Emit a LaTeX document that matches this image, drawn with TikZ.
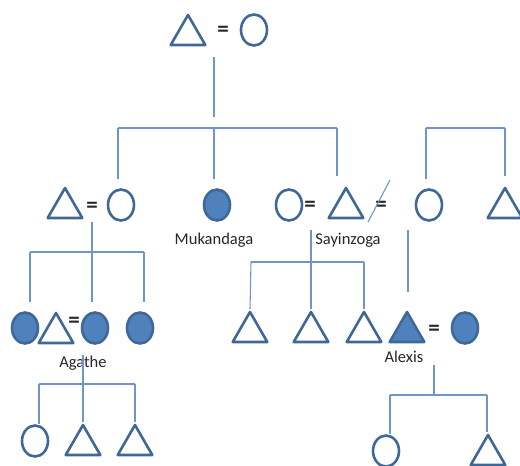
\documentclass[tikz,border=0pt]{standalone}
\usepackage{fontspec}
\setmainfont{Carlito}
\usetikzlibrary{shapes.geometric}

\definecolor{shp}{HTML}{3F6797}
\definecolor{shpfill}{HTML}{4F81BD}
\definecolor{tree}{HTML}{7095C8}

\begin{document}
\begin{tikzpicture}[x=1pt, y=-1pt,
		m/.style = {regular polygon, regular polygon sides=3, draw=shp, line width=2.6pt, line join=round, minimum size=40pt, inner sep=0},
		f/.style = {ellipse, draw=shp, line width=2.6pt, minimum width=26pt, minimum height=31pt, inner sep=0},
		mx/.style = {m, fill=shpfill},
		fx/.style = {f, fill=shpfill},
		e/.style = {font=\fontsize{23}{23}\selectfont\bfseries, text=black!85, inner sep=0},
		l/.style = {font=\fontsize{16.5}{18}\selectfont, text=black!85, inner sep=0},
		r/.style = {draw=tree, line width=1.1pt},
		g/.style = {r, shorten >=9pt}
		]
		
		\useasboundingbox (0,0) rectangle (520,466);
		
		% === === Nodes === ===
		\node[m]	(gf)	at	(188, 35)	{};
		\node[e]	(eq0)	at	(223, 31)	{=};
		\node[f]	(gm)	at	(254, 30)	{};
		
		\node[m]	(a1)	at	(65, 208)	{};
		\node[e]	(eq1)	at	(92, 207)	{=};
		\node[f]	(a2)	at	(121, 205)	{};
		\node[fx]	(muk)	at	(217, 205)	{};
		\node[l]	(mukl)	at	(214, 240)	{Mukandaga};
		\node[f]	(c1)	at	(289, 205)	{};
		\node[e]	(eq2)	at	(310, 206)	{=};
		\node[m]	(say)	at	(346, 208)	{};
		\node[l]	(sayl)	at	(348, 240)	{Sayinzoga};
		\node[e]	(eq3)	at	(381, 206)	{=};
		\node[f]	(c2)	at	(429, 205)	{};
		\node[m]	(c3)	at	(505, 208)	{};
		
		\node[fx]	(d1)	at	(25, 328)	{};
		\node[m]	(d2)	at	(56, 333)	{};
		\node[e]	(eq4)	at	(74, 322)	{=};
		\node[fx]	(aga)	at	(95, 328)	{};
		\node[l]	(agal)	at	(83, 363)	{Agathe};
		\node[fx]	(d3)	at	(140, 328)	{};
		
		\node[m]	(s1)	at	(250, 332)	{};
		\node[m]	(s2)	at	(311, 332)	{};
		\node[m]	(s3)	at	(364, 332)	{};
		\node[mx]	(alx)	at	(407, 332)	{};
		\node[l]	(alxl)	at	(404, 357)	{Alexis};
		\node[e]	(eq5)	at	(434, 330)	{=};
		\node[fx]	(alw)	at	(465, 328)	{};
		
		\node[f]	(g1)	at	(35, 441)	{};
		\node[m]	(g2)	at	(83, 445)	{};
		\node[m]	(g3)	at	(135, 445)	{};
		\node[f]	(h1)	at	(386, 451)	{};
		\node[m]	(h2)	at	(488, 455)	{};
		
		% === === Points === ===
		\coordinate	(p0)	at	(214, 57);
		\coordinate	(b0)	at	(214, 117);
		\coordinate	(b1l)	at	(118, 128);
		\coordinate	(b1m)	at	(214, 128);
		\coordinate	(b1r)	at	(337, 128);
		\coordinate	(b2l)	at	(426, 128);
		\coordinate	(b2r)	at	(505, 128);
		\coordinate	(p1)	at	(92, 222);
		\coordinate	(b3l)	at	(30, 252);
		\coordinate	(b3r)	at	(144, 252);
		\coordinate	(p2)	at	(311, 230);
		\coordinate	(b4l)	at	(251, 262);
		\coordinate	(b4r)	at	(364, 262);
		\coordinate	(p3)	at	(408, 230);
		\coordinate	(p3e)	at	(408, 292);
		\coordinate	(p4)	at	(83, 355);
		\coordinate	(b5l)	at	(39, 384);
		\coordinate	(b5r)	at	(135, 384);
		\coordinate	(p5)	at	(434, 365);
		\coordinate	(b6l)	at	(390, 395);
		\coordinate	(b6r)	at	(487, 395);
		\coordinate	(sl1)	at	(368, 222);
		\coordinate	(sl2)	at	(390, 180);
		
		% === === Lines === ===
		\draw[r]	(p0)	--	(b0);
		\draw[r]	(b1l)	--	(b1r);
		\draw[g]	(b1l)	--	(b1l |- a2.north);
		\draw[g]	(b1m)	--	(b1m |- muk.north);
		\draw[g]	(b1r)	--	(b1r |- say.north);
		\draw[r]	(b2l)	--	(b2r);
		\draw[g]	(b2l)	--	(b2l |- c2.north);
		\draw[g]	(b2r)	--	(b2r |- c3.north);
		\draw[r]	(sl1)	--	(sl2);
		
		\draw[g]	(p1)	--	(p1 |- aga.north);
		\draw[r]	(b3l)	--	(b3r);
		\draw[g]	(b3l)	--	(b3l |- d1.north);
		\draw[g]	(b3r)	--	(b3r |- d3.north);
		
		\draw[r]	(p2)	--	(s2.north);
		\draw[r]	(b4l)	--	(b4r);
		\draw[r]	(b4l)	--	(s1.north);
		\draw[r]	(b4r)	--	(s3.north);
		\draw[r]	(p3)	--	(p3e);
		
		\draw[r]	(p4)	--	(g2.north);
		\draw[r]	(b5l)	--	(b5r);
		\draw[r]	(b5l)	--	(b5l |- g1.north);
		\draw[r]	(b5r)	--	(g3.north);
		
		\draw[r]	(p5)	--	(p5 |- b6l);
		\draw[r]	(b6l)	--	(b6r);
		\draw[r]	(b6l)	--	(b6l |- h1.north);
		\draw[r]	(b6r)	--	(b6r |- h2.north);
		
	\end{tikzpicture}
\end{document}
